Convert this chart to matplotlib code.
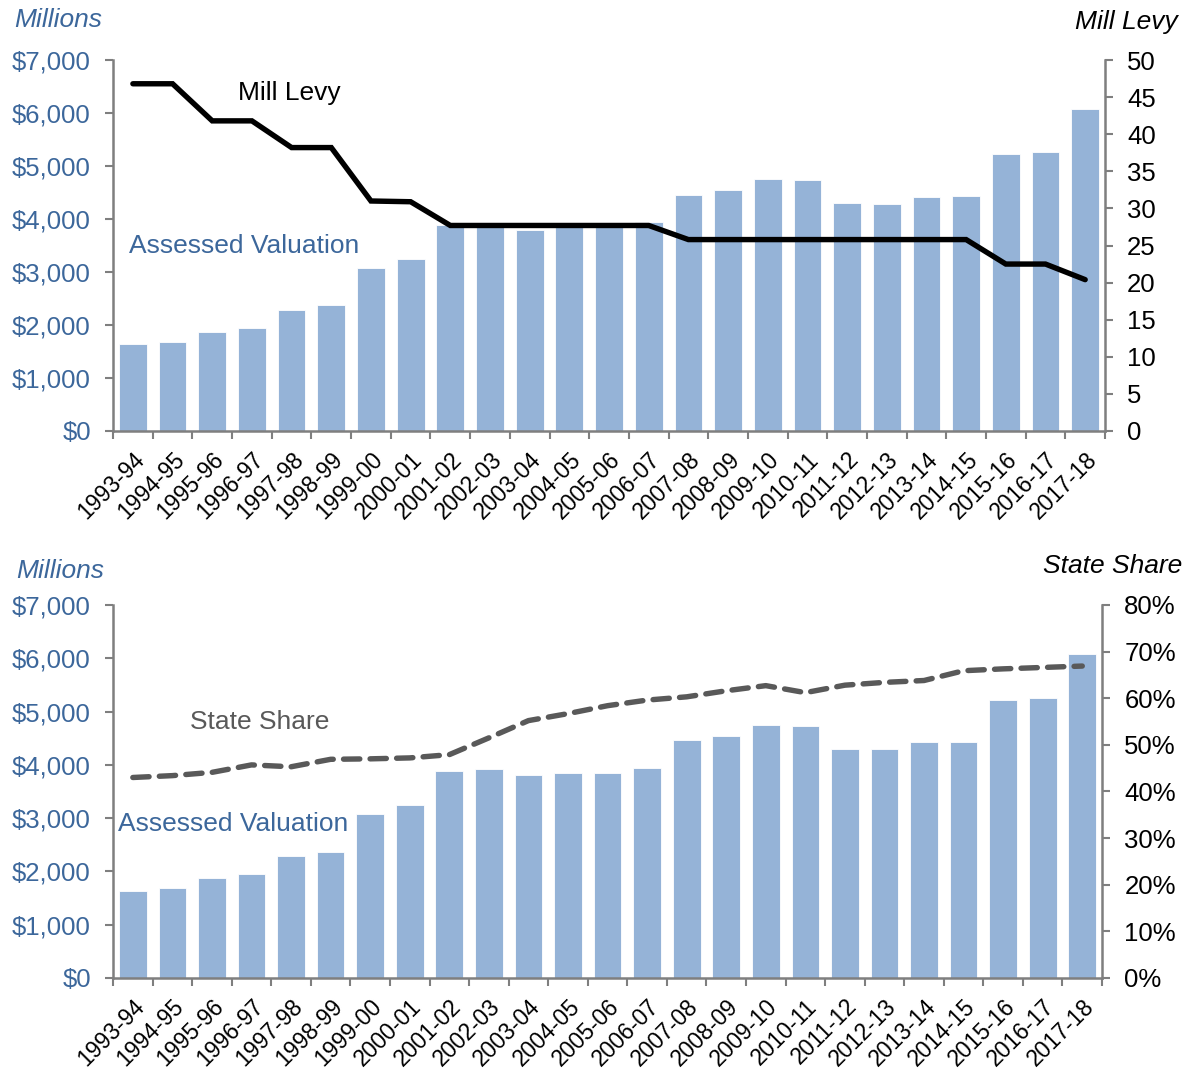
import matplotlib
matplotlib.use("Agg")
import matplotlib.pyplot as plt
import numpy as np

plt.rcParams["font.family"] = ["Liberation Sans", "DejaVu Sans"]

# データ
years = ["1993-94", "1994-95", "1995-96", "1996-97", "1997-98", "1998-99",
         "1999-00", "2000-01", "2001-02", "2002-03", "2003-04", "2004-05",
         "2005-06", "2006-07", "2007-08", "2008-09", "2009-10", "2010-11",
         "2011-12", "2012-13", "2013-14", "2014-15", "2015-16", "2016-17",
         "2017-18"]
assessed_valuation = [1640, 1680, 1870, 1950, 2280, 2370, 3070, 3240, 3880,
                      3920, 3800, 3840, 3840, 3940, 4460, 4540, 4750, 4730,
                      4300, 4290, 4420, 4425, 5220, 5260, 6080]
mill_levy = [46.8, 46.8, 41.8, 41.8, 38.2, 38.2, 31.0, 30.9, 27.7, 27.7,
             27.7, 27.7, 27.7, 27.7, 25.8, 25.8, 25.8, 25.8, 25.8, 25.8,
             25.8, 25.8, 22.5, 22.5, 20.4]
state_share = [43.0, 43.4, 44.1, 45.7, 45.3, 46.9, 47.0, 47.2, 47.9, 51.5,
               55.2, 56.7, 58.4, 59.6, 60.3, 61.6, 62.7, 61.2, 62.8, 63.4,
               63.8, 65.9, 66.3, 66.6, 66.9]
left_ticks = [0, 1000, 2000, 3000, 4000, 5000, 6000, 7000]
levy_ticks = [0, 5, 10, 15, 20, 25, 30, 35, 40, 45, 50]
share_ticks = [0, 10, 20, 30, 40, 50, 60, 70, 80]

BAR = "#95B3D7"
BLUE = "#3C679B"
GRAY = "#7F7F7F"
DARK = "#595959"
FS = 19       # 注記
TFS = 18.5    # 目盛ラベル
XFS = 16.5    # 年度ラベル


# 共通の軸設定 (Excel風)
def style_axes(ax, ax2):
    x = np.arange(len(years))
    ax.set_xlim(-0.5, len(years) - 0.5)
    ax.set_ylim(0, 7000)
    ax.set_yticks(left_ticks)
    ax.set_yticklabels(["${:,}".format(v) for v in left_ticks],
                       color=BLUE, fontsize=TFS)
    ax.set_xticks(x)
    ax.set_xticklabels(years, rotation=45, ha="right",
                       rotation_mode="anchor", fontsize=XFS)
    ax.set_xticks(np.arange(-0.5, len(years)), minor=True)
    ax.tick_params(axis="x", which="major", length=0, pad=12)
    ax.tick_params(axis="x", which="minor", length=6, width=1.5, color=GRAY)
    ax.tick_params(axis="y", length=6, width=1.5, color=GRAY, pad=10)
    for s in ["top", "right"]:
        ax.spines[s].set_visible(False)
    for s in ["left", "bottom"]:
        ax.spines[s].set_color(GRAY)
        ax.spines[s].set_linewidth(1.8)
    for s in ["top", "left", "bottom"]:
        ax2.spines[s].set_visible(False)
    ax2.spines["right"].set_color(GRAY)
    ax2.spines["right"].set_linewidth(1.8)
    ax2.tick_params(axis="y", length=6, width=1.5, color=GRAY, pad=10,
                    labelsize=TFS)


fig = plt.figure(figsize=(11.85, 10.7), dpi=100)

# 上段: ミルレヴィ
ax = fig.add_axes([0.0954, 0.5972, 0.8371, 0.3467])
x = np.arange(len(years))
ax.bar(x, assessed_valuation, width=0.7, color=BAR, edgecolor="white",
       linewidth=0.6, zorder=2)
ax2 = ax.twinx()
ax2.plot(x, mill_levy, color="black", lw=3.9, solid_joinstyle="miter",
         solid_capstyle="round", zorder=3)
ax2.set_ylim(0, 50)
ax2.set_yticks(levy_ticks)
style_axes(ax, ax2)
ax2.text(2.65, 45.6, "Mill Levy", fontsize=FS, va="center", ha="left")
ax.text(-0.1, 3500, "Assessed Valuation", fontsize=FS, color=BLUE,
        va="center", ha="left")
fig.text(0.012, 0.981, "Millions", fontsize=FS, style="italic", color=BLUE,
         va="center", ha="left")
fig.text(0.994, 0.979, "Mill Levy", fontsize=FS, style="italic",
         va="center", ha="right")

# 下段: 州負担割合
bx = fig.add_axes([0.0954, 0.0860, 0.8346, 0.3486])
bx.bar(x, assessed_valuation, width=0.7, color=BAR, edgecolor="white",
       linewidth=0.6, zorder=2)
bx2 = bx.twinx()
bx2.plot(x, state_share, color=DARK, lw=3.9, dashes=(3.0, 1.9),
         dash_capstyle="round", zorder=3)
bx2.set_ylim(0, 80)
bx2.set_yticks(share_ticks)
bx2.set_yticklabels(["{}%".format(v) for v in share_ticks])
style_axes(bx, bx2)
bx.text(1.45, 4800, "State Share", fontsize=FS, color=DARK,
        va="center", ha="left")
bx.text(-0.38, 2890, "Assessed Valuation", fontsize=FS, color=BLUE,
        va="center", ha="left")
fig.text(0.0135, 0.466, "Millions", fontsize=FS, style="italic", color=BLUE,
         va="center", ha="left")
fig.text(0.998, 0.471, "State Share", fontsize=FS, style="italic",
         va="center", ha="right")

fig.savefig("out.png", dpi=100)
